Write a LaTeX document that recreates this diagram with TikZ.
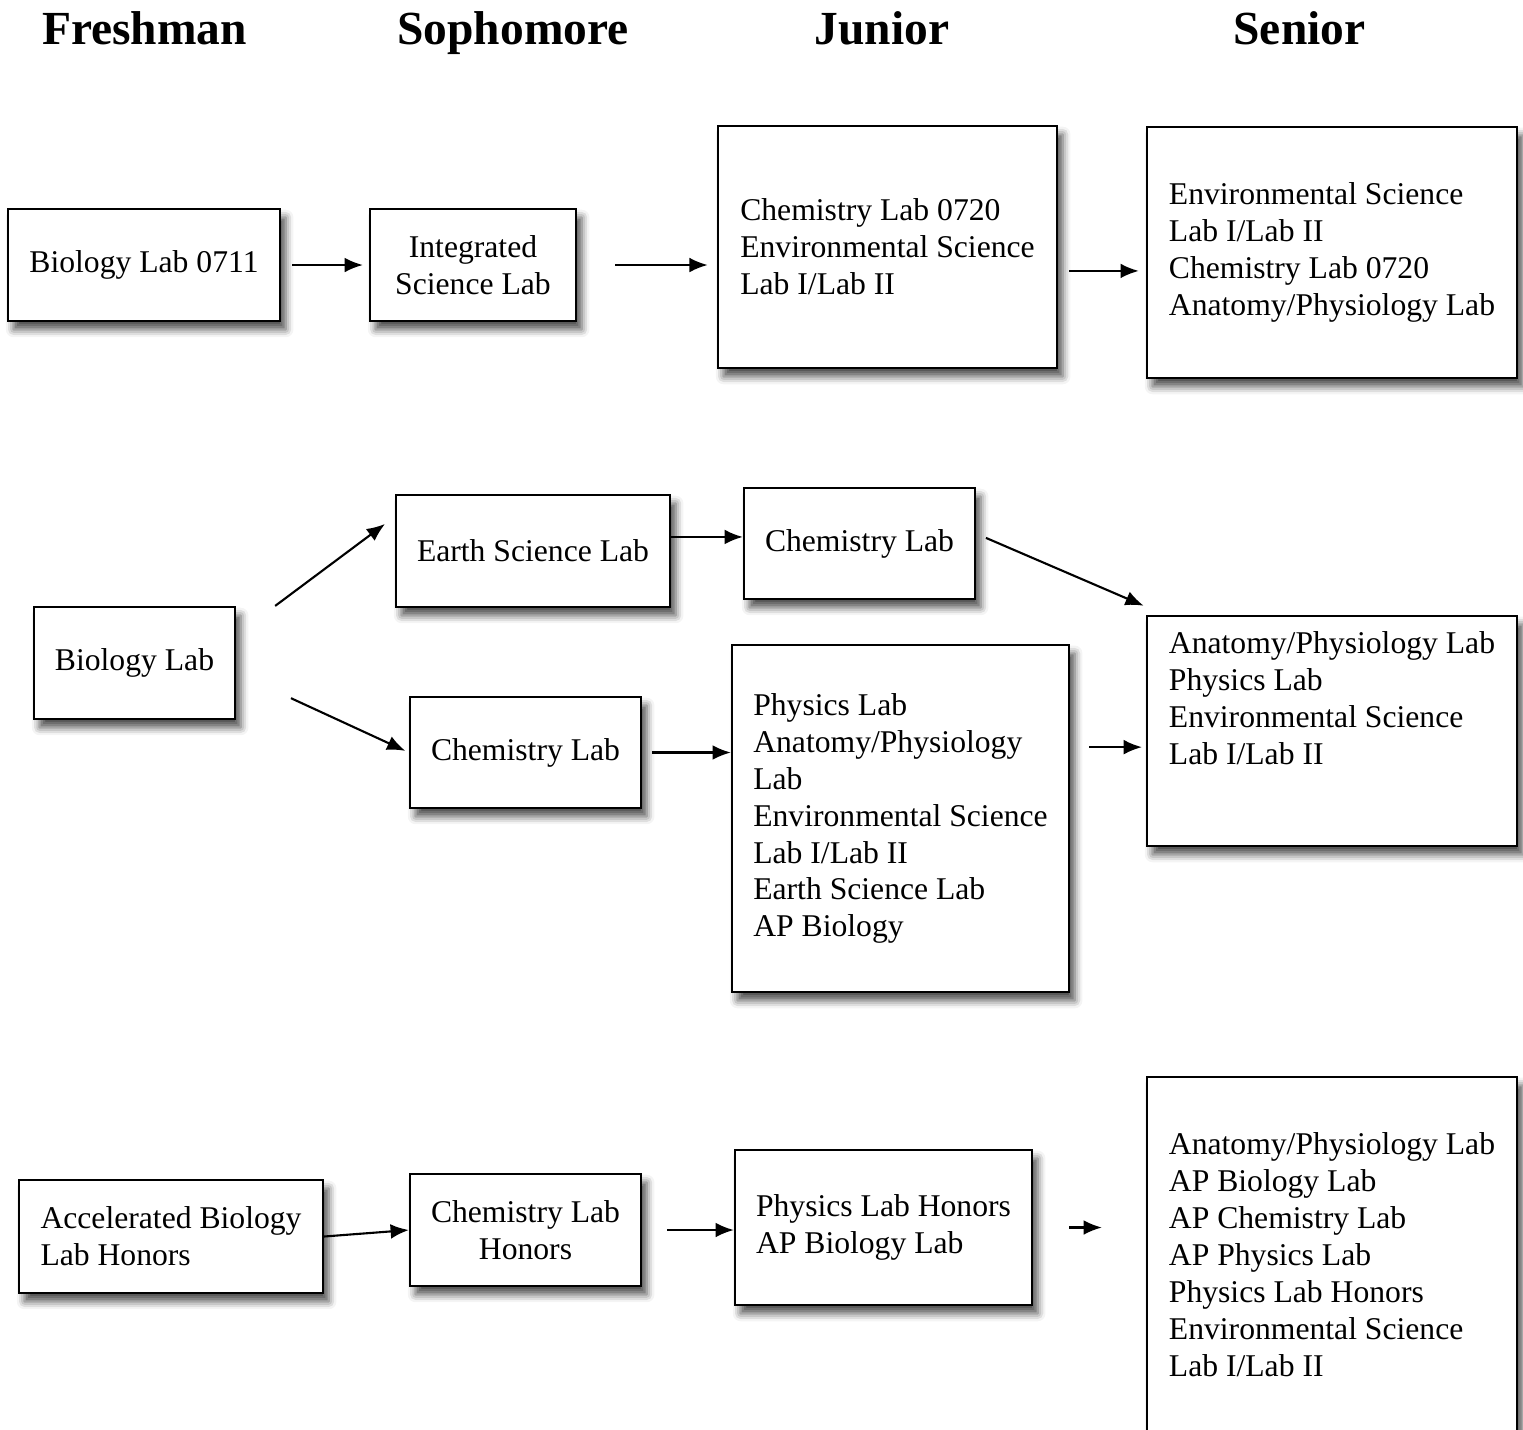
\documentclass[tikz,border=0pt]{standalone}
\usepackage{fontspec}
\setmainfont{Liberation Serif}
\usetikzlibrary{arrows.meta,positioning,shadows.blur}

\begin{document}
\begin{tikzpicture}[x=0.01cm,y=-0.01cm,
  box/.style={draw,line width=0.6pt,fill=white,inner sep=0pt,align=left,
    font=\fontsize{9}{10.5}\selectfont,
    blur shadow={shadow xshift=1.6pt,shadow yshift=-2.4pt,shadow blur radius=2.2pt,shadow opacity=70}},
  year/.style={anchor=base,font=\fontsize{13.5}{16}\selectfont\bfseries},
  arr/.style={line width=0.6pt,-{Latex[length=5.2pt,width=4.2pt]}}]

  \useasboundingbox (0,0) rectangle (1523,1429);

  \node[year] (fresh) at (144.5,44) {Freshman};
  \node[year] (soph) at (513,44) {Sophomore};
  \node[year] (jun) at (882,44) {Junior};
  \node[year] (sen) at (1299.5,44) {Senior};

  \node[box,minimum width=2.72cm,minimum height=1.12cm] (A1) at (144,265) {Biology Lab 0711};
  \node[box,align=center,minimum width=2.06cm,minimum height=1.12cm] (A2) at (473,265) {Integrated\\Science Lab};
  \node[box,minimum width=3.39cm,minimum height=2.42cm] (A3) at (887.5,247)
    {Chemistry Lab 0720\\Environmental Science\\Lab I/Lab II};
  \node[box,minimum width=3.70cm,minimum height=2.51cm] (A4) at (1332,252.5)
    {Environmental Science\\Lab I/Lab II\\Chemistry Lab 0720\\Anatomy/Physiology Lab};

  \node[box,minimum width=2.01cm,minimum height=1.12cm] (B1) at (134.5,663) {Biology Lab};
  \node[box,minimum width=2.74cm,minimum height=1.12cm] (B2) at (533,551) {Earth Science Lab};
  \node[box,minimum width=2.31cm,minimum height=1.11cm] (B3) at (859.5,543.5) {Chemistry Lab};
  \node[box,minimum width=2.31cm,minimum height=1.11cm] (B4) at (525.5,752.5) {Chemistry Lab};
  \node[box,minimum width=3.37cm,minimum height=3.47cm] (B5) at (900.5,818.5)
    {Physics Lab\\Anatomy/Physiology\\Lab\\Environmental Science\\Lab I/Lab II\\Earth Science Lab\\AP Biology};
  \node[box,minimum width=3.70cm,minimum height=2.30cm] (B6) at (1332,731)
    {Anatomy/Physiology Lab\\Physics Lab\\Environmental Science\\Lab I/Lab II\\[8.2pt]\mbox{}};

  \node[box,minimum width=3.04cm,minimum height=1.13cm] (C1) at (171,1236.5)
    {Accelerated Biology\\Lab Honors};
  \node[box,align=center,minimum width=2.31cm,minimum height=1.12cm] (C2) at (525.5,1230)
    {Chemistry Lab\\Honors};
  \node[box,minimum width=2.97cm,minimum height=1.55cm] (C3) at (883.5,1227.5)
    {Physics Lab Honors\\AP Biology Lab};
  \node[box,minimum width=3.70cm,minimum height=3.55cm] (C4) at (1332,1254.5)
    {Anatomy/Physiology Lab\\AP Biology Lab\\AP Chemistry Lab\\AP Physics Lab\\Physics Lab Honors\\Environmental Science\\Lab I/Lab II};

  \coordinate (a3out) at ([yshift=-6.8pt]A3.east);
  \coordinate (b2out) at ([yshift=4pt]B2.east);
  \coordinate (b5out) at ([yshift=20.3pt]B5.east);

  \draw[arr,shorten <=3.1pt,shorten >=1.7pt] (A1.east) -- (A2.west);
  \draw[arr,shorten <=10.8pt,shorten >=2.6pt] (A2.east) -- (A3.west |- A2.east);
  \draw[arr,shorten <=3.1pt,shorten >=2pt] (a3out) -- (a3out -| A4.west);

  \draw[arr] ([xshift=11.1pt]B1.north east) -- ([xshift=-2.8pt,yshift=7.7pt]B2.west);
  \draw[arr,shorten >=1.1pt] ([xshift=15.6pt,yshift=-10pt]B1.east) -- (B4.west);
  \draw[arr] (b2out) -- (b2out -| B3.west);
  \draw[arr] ([xshift=2.8pt,yshift=1.6pt]B3.east) -- ([xshift=-0.6pt,yshift=2.6pt]B6.north west);
  \draw[arr,shorten <=2.8pt] (B4.east) -- (B4.east -| B5.west);
  \draw[arr,shorten <=5.4pt,shorten >=1.1pt] (b5out) -- (b5out -| B6.west);

  \draw[arr] (C1.east) -- (C2.west);
  \draw[arr,shorten <=7.1pt] (C2.east) -- (C2.east -| C3.west);
  \draw[arr,shorten <=10.2pt,shorten >=12.5pt] (C3.east) -- (C3.east -| C4.west);

\end{tikzpicture}
\end{document}
